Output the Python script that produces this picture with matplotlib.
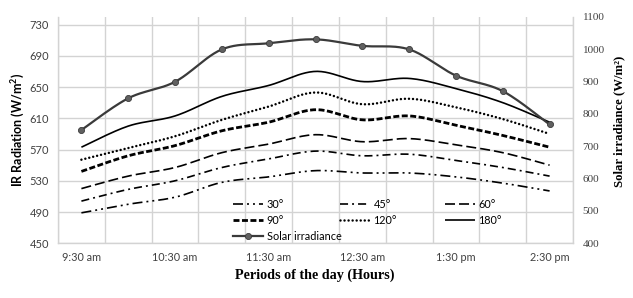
import numpy as np
import matplotlib
matplotlib.use("Agg")
import matplotlib.pyplot as plt
from matplotlib.lines import Line2D

# ---- data ----
times = ["9:30", "10:00", "10:30", "11:00", "11:30", "12:00",
         "12:30", "1:00", "1:30", "2:00", "2:30"]
tick_labels = ["9:30 am", "10:30 am", "11:30 am", "12:30 am", "1:30 pm", "2:30 pm"]
ir_30 = [489, 500, 509, 528, 535, 543, 540, 540, 535, 527, 517]
ir_45 = [504, 519, 530, 547, 558, 568, 562, 564, 556, 547, 536]
ir_60 = [520, 536, 547, 566, 577, 589, 580, 584, 576, 566, 550]
ir_90 = [542, 562, 575, 594, 605, 621, 608, 613, 601, 588, 573]
ir_120 = [557, 572, 587, 608, 625, 643, 628, 635, 624, 609, 590]
ir_180 = [573, 600, 613, 638, 652, 670, 657, 661, 648, 630, 605]
solar = [750, 848, 899, 999, 1018, 1030, 1010, 999, 918, 870, 767]

plt.rcParams['lines.scale_dashes'] = False


def smooth(x, y, n=24):
    """Excel-like smoothed line (Catmull-Rom) through the data points."""
    pts = np.column_stack([x, y]).astype(float)
    P = np.vstack([pts[0], pts, pts[-1]])
    out = []
    t = np.linspace(0, 1, n, endpoint=False)[:, None]
    for i in range(1, len(P) - 2):
        p0, p1, p2, p3 = P[i - 1], P[i], P[i + 1], P[i + 2]
        seg = 0.5 * ((2 * p1) + (-p0 + p2) * t + (2 * p0 - 5 * p1 + 4 * p2 - p3) * t ** 2
                     + (-p0 + 3 * p1 - 3 * p2 + p3) * t ** 3)
        out.append(seg)
    out.append(pts[-1:])
    s = np.vstack(out)
    return s[:, 0], s[:, 1]


W, H = 633, 298
fig = plt.figure(figsize=(W / 100, H / 100), dpi=100)
L, R, T, B = 58, 573, 16.7, 243.3
ax = fig.add_axes([L / W, 1 - B / H, (R - L) / W, (B - T) / H])
ax2 = ax.twinx()

x = np.arange(len(times))
grid_c = '#d3d3d3'
tick_c = '#404040'

styles = {
    '30°': dict(data=ir_30, lw=1.2, ls=(0, (7.2, 2.9, 1.4, 2.9, 1.4, 2.9))),
    '45°': dict(data=ir_45, lw=1.2, ls=(0, (5.8, 2.9, 1.4, 2.9))),
    '60°': dict(data=ir_60, lw=1.2, ls=(0, (7.2, 2.9))),
    '90°': dict(data=ir_90, lw=2.0, ls=(0, (4.3, 1.8))),
    '120°': dict(data=ir_120, lw=1.8, ls=(0, (0.01, 2.9))),
    '180°': dict(data=ir_180, lw=1.2, ls='-'),
}
handles = {}
for name, st in styles.items():
    xs, ys = smooth(x, st['data'])
    ln, = ax.plot(xs, ys, color='black', lw=st['lw'], linestyle=st['ls'],
                  dash_capstyle='round' if name == '120°' else 'butt',
                  solid_capstyle='butt', label=name)
    handles[name] = ln

xs, ys = smooth(x, solar)
ax2.plot(xs, ys, color='#3a3a3a', lw=1.6, zorder=5)
ax2.plot(x, solar, linestyle='none', marker='o', markersize=4.4,
         markerfacecolor='#606060', markeredgecolor='#3a3a3a', markeredgewidth=0.6, zorder=6)
solar_handle = Line2D([], [], color='#3a3a3a', lw=1.6, marker='o', markersize=4.4,
                      markerfacecolor='#606060', markeredgecolor='#3a3a3a', markeredgewidth=0.6)

# axes
ax.set_xlim(-0.5, len(times) - 0.5)
ax.set_ylim(450, 740)
ax.set_yticks(np.arange(450, 731, 40))
ax.set_xticks(x[::2])
ax.set_xticklabels(tick_labels)
ax.set_xticks(np.arange(-0.5, len(times), 1), minor=True)
ax.grid(True, axis='y', which='major', color=grid_c, lw=1.0)
ax.grid(True, axis='x', which='minor', color=grid_c, lw=1.0)
ax.grid(False, axis='x', which='major')
ax.set_axisbelow(True)
ax2.set_ylim(400, 1100)
ax2.set_yticks(np.arange(400, 1101, 100))

for a in (ax, ax2):
    a.tick_params(which='both', length=0)
    for s in a.spines.values():
        s.set_visible(False)
for side in ('left', 'right', 'bottom'):
    ax.spines[side].set_visible(True)
    ax.spines[side].set_color(grid_c)
    ax.spines[side].set_linewidth(1.0)

ax.tick_params(axis='y', pad=6.5, labelsize=8, labelcolor=tick_c)
ax.tick_params(axis='x', pad=6.5, labelsize=7.8, labelcolor=tick_c)
for lab in ax.get_xticklabels() + ax.get_yticklabels():
    lab.set_fontfamily('Lato')
ax2.tick_params(axis='y', pad=7, labelsize=8, labelcolor=tick_c)
for lab in ax2.get_yticklabels():
    lab.set_fontfamily('Liberation Serif')

# titles
fig.text(18 / W, 1 - 130 / H, "IR Radiation (W/m$^\\mathregular{2}$)", rotation=90,
         ha='center', va='center', fontsize=9, fontweight='bold', family='Lato')
fig.text(619 / W, 1 - 121 / H, "Solar irradiance (W/m²)", rotation=90,
         ha='center', va='center', fontsize=9.2, fontweight='bold', family='Liberation Serif')
fig.text(315 / W, 1 - 275 / H, "Periods of the day (Hours)",
         ha='center', va='center', fontsize=10.2, fontweight='bold', family='Liberation Serif')

# legend (three columns placed like the reference)
leg_kw = dict(frameon=False, loc='upper left', handlelength=2.8,
              handletextpad=0.3, labelspacing=0.45, borderpad=0, borderaxespad=0,
              prop={'family': 'Lato', 'size': 7.8})
cols = [
    ([handles['30°'], handles['90°'], solar_handle], ['30°', '90°', 'Solar irradiance'], 233),
    ([handles['45°'], handles['120°']], ['45°', '120°'], 340),
    ([handles['60°'], handles['180°']], ['60°', '180°'], 445),
]
for hs, ls, px in cols:
    lg = Legend_obj = ax2.legend(hs, ls, bbox_to_anchor=((px - L) / (R - L), (B - 199) / (B - T)),
                                 **leg_kw)
    ax2.legend_ = None
    ax2.add_artist(lg)

fig.savefig('out.png', dpi=100)
